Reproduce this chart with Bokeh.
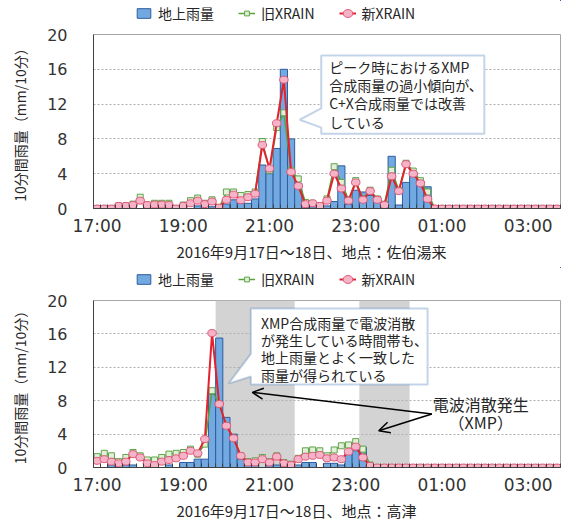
from bokeh.plotting import figure
from bokeh.models import (ColumnDataSource, FixedTicker, Legend, LegendItem, Label,
                          PolyAnnotation, BoxAnnotation, Arrow, OpenHead, Title, Range1d)
from bokeh.layouts import column
from bokeh.embed import file_html
from bokeh.resources import INLINE

FONT = "Noto Sans CJK JP"
NUMFONT = "DejaVu Sans"

# ---------------- data ----------------
tick_index = [0, 12, 24, 36, 48, 60]
tick_labels = ["17:00", "19:00", "21:00", "23:00", "01:00", "03:00"]

# top chart: 佐伯湯来 (10-min steps from 17:00)
top_ground = [0, 0, 0, 0, 0, 0, 0, 0, 0, 0,
              0, 0, 0, 0, 0.3, 0, 0.2, 0, 0.5, 1.0,
              0.6, 0.6, 1.1, 5.0, 4.0, 6.9, 16.0, 8.0, 2.9, 0.3,
              0.2, 0, 0.3, 0.8, 4.9, 0.5, 2.1, 1.9, 1.5, 1.3,
              0, 6.0, 0.4, 3.0, 4.2, 3.2, 2.5, 0, 0, 0,
              0, 0, 0, 0, 0, 0, 0, 0, 0, 0,
              0, 0, 0, 0, 0]
top_old = [0, 0, 0, 0.3, 0.3, 0.5, 1.3, 0.4, 0.6, 0.6,
           0.6, 0, 0.4, 0.9, 1.2, 0.6, 1.0, 0.1, 1.9, 1.9,
           1.5, 1.6, 1.9, 7.7, 4.4, 9.3, 11.0, 4.4, 3.4, 0.7,
           0.6, 0.3, 1.1, 4.8, 3.0, 1.0, 3.2, 1.1, 2.1, 1.1,
           0.5, 4.4, 2.1, 5.2, 4.3, 3.2, 1.9, 0, 0, 0,
           0, 0, 0, 0, 0, 0, 0, 0, 0, 0,
           0, 0, 0, 0, 0]
top_new = [0, 0, 0, 0.3, 0.3, 0.4, 0.9, 0.4, 0.45, 0.45,
           0.4, 0, 0.3, 0.6, 0.9, 0.5, 0.8, 0.1, 1.0, 1.6,
           0.95, 1.3, 1.7, 7.3, 4.6, 9.8, 14.8, 4.2, 2.6, 0.5,
           0.6, 0.3, 0.9, 4.0, 2.3, 0.9, 3.0, 1.0, 2.0, 1.0,
           0.4, 3.7, 2.0, 5.1, 4.0, 2.9, 1.1, 0, 0, 0,
           0, 0, 0, 0, 0, 0, 0, 0, 0, 0,
           0, 0, 0, 0, 0]

# bottom chart: 高津
bot_ground = [0, 0, 0.3, 0, 0.3, 0.3, 0, 0, 0, 0,
              0.3, 0, 0.6, 0.6, 1.0, 1.0, 8.8, 15.5, 6.0, 4.0,
              1.0, 0.3, 0.3, 0, 0.3, 0.3, 0, 0, 0.3, 0.6,
              0.6, 0, 0.5, 0.5, 0.3, 1.8, 2.0, 2.4, 0, 0,
              0, 0, 0, 0, 0, 0, 0, 0, 0, 0,
              0, 0, 0, 0, 0, 0, 0, 0, 0, 0,
              0, 0, 0, 0, 0]
bot_old = [1.3, 1.7, 1.4, 0.7, 1.2, 1.8, 1.4, 0.9, 0.9, 1.2,
           1.6, 1.7, 1.8, 2.2, 1.6, 2.8, 9.2, 7.6, 5.0, 3.5,
           1.4, 0.7, 0.8, 1.2, 0.7, 1.4, 0.6, 0.4, 1.1, 2.0,
           2.1, 2.0, 1.4, 2.1, 2.6, 2.7, 3.1, 2.2, 0.3, 0,
           0, 0, 0, 0, 0, 0, 0, 0, 0, 0,
           0, 0, 0, 0, 0, 0, 0, 0, 0, 0,
           0, 0, 0, 0, 0]
bot_new = [0.8, 1.0, 0.7, 0.5, 0.7, 1.6, 1.2, 0.5, 0.3, 0.7,
           0.9, 1.1, 1.4, 2.0, 1.7, 3.4, 16.1, 7.6, 5.0, 3.5,
           1.4, 0.6, 0.6, 1.0, 0.6, 1.3, 0.5, 0.3, 1.0, 1.3,
           1.4, 1.5, 1.1, 1.2, 1.0, 1.9, 2.5, 1.2, 0.2, 0,
           0, 0, 0, 0, 0, 0, 0, 0, 0, 0,
           0, 0, 0, 0, 0, 0, 0, 0, 0, 0,
           0, 0, 0, 0, 0]

# periods of XMP radio-wave attenuation (bottom chart, in 10-min index units)
attenuation_periods = [(16.5, 27.5), (36.5, 43.5)]

top_title = "2016年9月17日～18日、地点：佐伯湯来"
bot_title = "2016年9月17日～18日、地点：高津"
y_title = "10分間雨量（mm/10分）"
legend_labels = ["地上雨量", "旧XRAIN", "新XRAIN"]
top_note = ["ピーク時におけるXMP", "合成雨量の過小傾向が、", "C+X合成雨量では改善", "している"]
bot_note = ["XMP合成雨量で電波消散", "が発生している時間帯も、", "地上雨量とよく一致した", "雨量が得られている"]
atten_note = ["電波消散発生", "（XMP）"]

TXT = "#262626"
CALLOUT = "#3d72b4"
BAR_FILL, BAR_LINE = "#72a9e0", "#2e5d9f"
OLD_LINE, OLD_FILL, OLD_MK = "#58a33a", "#e2f0d9", "#5fa34a"
NEW_LINE, NEW_FILL, NEW_MK = "#e3222d", "#f5b3c8", "#e0587a"
W = 564
LEFT, RIGHT = 93, 4


def source(ground, old, new):
    return ColumnDataSource(dict(x=list(range(len(ground))), g=ground, o=old, nw=new))


def draw_series(p, src):
    bars = p.vbar(x="x", top="g", width=1.0, source=src,
                  fill_color=BAR_FILL, line_color=BAR_LINE, line_width=1)
    gl = p.line("x", "o", source=src, line_color=OLD_LINE, line_width=1.5)
    gs = p.scatter("x", "o", source=src, marker="square", size=6,
                   fill_color=OLD_FILL, line_color=OLD_MK, line_width=1)
    rl = p.line("x", "nw", source=src, line_color=NEW_LINE, line_width=2)
    rs = p.ellipse("x", "nw", width=8.5, height=7, width_units="screen", height_units="screen",
                   source=src, fill_color=NEW_FILL, line_color=NEW_MK, line_width=1)
    return bars, gl, gs, rl, rs


def make_legend(src, height):
    # a strip holding only the legend; its view range is away from the data
    lp = figure(width=W, height=height, x_range=Range1d(-200, -199), y_range=Range1d(-200, -199),
                output_backend="svg", toolbar_location=None,
                x_axis_type=None, y_axis_type=None,
                min_border_left=LEFT, min_border_right=RIGHT, min_border_top=0, min_border_bottom=0)
    lp.outline_line_color = None
    lp.grid.visible = False
    bars, gl, gs, rl, rs = draw_series(lp, src)
    items = [LegendItem(label=legend_labels[0], renderers=[bars]),
             LegendItem(label=legend_labels[1], renderers=[gl, gs]),
             LegendItem(label=legend_labels[2], renderers=[rl, rs])]
    lg = Legend(items=items, location="center_left", orientation="horizontal",
                label_text_font=FONT, label_text_font_size="14px", label_text_color=TXT,
                glyph_width=17, glyph_height=12, label_standoff=6, spacing=24,
                padding=0, margin=42, border_line_color=None, background_fill_alpha=0,
                label_height=14)
    lp.add_layout(lg)
    return lp


def make_chart(src, height, b_top, b_bottom, title):
    n = len(src.data["x"])
    p = figure(width=W, height=height, x_range=Range1d(-0.5, n - 0.5), y_range=Range1d(0, 20),
               output_backend="svg", toolbar_location=None,
               min_border_left=LEFT, min_border_right=RIGHT,
               min_border_top=b_top, min_border_bottom=b_bottom)
    p.outline_line_color = "#a6a6a6"
    p.background_fill_color = "white"
    p.border_fill_color = "white"

    draw_series(p, src)

    xa = p.xaxis[0]
    xa.ticker = FixedTicker(ticks=tick_index, minor_ticks=[k - 0.5 for k in range(n + 1)])
    xa.major_label_overrides = {i: s for i, s in zip(tick_index, tick_labels)}
    xa.major_label_text_font = NUMFONT
    xa.major_label_text_font_size = "17px"
    xa.major_label_text_color = "#333333"
    xa.major_tick_in = 0
    xa.major_tick_out = 0
    xa.minor_tick_in = 4
    xa.minor_tick_out = 0
    xa.minor_tick_line_color = "#404040"
    xa.axis_line_color = "#404040"
    xa.major_label_standoff = 7

    ya = p.yaxis[0]
    ya.ticker = FixedTicker(ticks=[0, 4, 8, 12, 16, 20])
    ya.major_tick_in = 0
    ya.major_tick_out = 0
    ya.minor_tick_in = 0
    ya.minor_tick_out = 0
    ya.axis_line_color = "#404040"
    ya.major_label_standoff = 26
    ya.major_label_text_font = NUMFONT
    ya.major_label_text_font_size = "16px"
    ya.major_label_text_color = "#333333"
    ya.axis_label = y_title
    ya.axis_label_text_font = FONT
    ya.axis_label_text_font_size = "14px"
    ya.axis_label_text_font_style = "normal"
    ya.axis_label_text_color = TXT
    ya.axis_label_standoff = 14

    p.xgrid.visible = False
    p.ygrid.grid_line_color = "#b0b0b0"
    p.ygrid.grid_line_dash = "2 2"

    t = Title(text=title, align="left", offset=83, text_font=FONT, text_font_size="15px",
              text_font_style="normal", text_color=TXT, standoff=0)
    p.add_layout(t, "below")
    return p


def callout(p, box, tip, base, lines, text_x, text_y0, dy, size):
    left, right, top, bottom = box
    xs = [left, right, right, left, left, tip[0], left]
    ys = [top, top, bottom, bottom, base[1], tip[1], base[0]]
    p.add_layout(PolyAnnotation(xs=xs, ys=ys, fill_color="white", fill_alpha=1,
                                line_color=CALLOUT, line_width=2))
    for i, s in enumerate(lines):
        p.add_layout(Label(x=text_x, y=text_y0 - i * dy, text=s, text_font=FONT,
                           text_font_size=size, text_color=TXT, text_baseline="middle",
                           text_align="left"))


# ---------------- top chart ----------------
src1 = source(top_ground, top_old, top_new)
leg1 = make_legend(src1, 26)
p1 = make_chart(src1, 241, 8, 59, top_title)
callout(p1, box=(31.2, 53.9, 17.6, 8.6), tip=(28.2, 10.2), base=(11.5, 9.3),
        lines=top_note, text_x=32.3, text_y0=16.3, dy=2.1, size="14px")

# ---------------- bottom chart ----------------
src2 = source(bot_ground, bot_old, bot_new)
leg2 = make_legend(src2, 24)
p2 = make_chart(src2, 229, 9, 53, bot_title)
for a, b in attenuation_periods:
    p2.add_layout(BoxAnnotation(left=a, right=b, fill_color="#d3d3d3", fill_alpha=1,
                                line_color=None, level="image"))
callout(p2, box=(21.4, 46.0, 19.05, 9.95), tip=(18.3, 10.05), base=(13.6, 10.9),
        lines=bot_note, text_x=22.8, text_y0=17.35, dy=2.08, size="14px")
p2.add_layout(Label(x=53.4, y=7.65, text=atten_note[0], text_font=FONT, text_font_size="16px",
                    text_color=TXT, text_align="center", text_baseline="middle"))
p2.add_layout(Label(x=53.4, y=5.5, text=atten_note[1], text_font=FONT, text_font_size="16px",
                    text_color=TXT, text_align="center", text_baseline="middle"))
for xe, ye in [(21.6, 9.0), (39.2, 4.4)]:
    p2.add_layout(Arrow(x_start=46.6, y_start=6.4, x_end=xe, y_end=ye, line_width=1.5,
                        line_color="black",
                        end=OpenHead(size=11, line_width=1.5, line_color="black")))

layout = column(leg1, p1, leg2, p2, spacing=0)
open("out.html", "w").write(file_html(layout, INLINE))
